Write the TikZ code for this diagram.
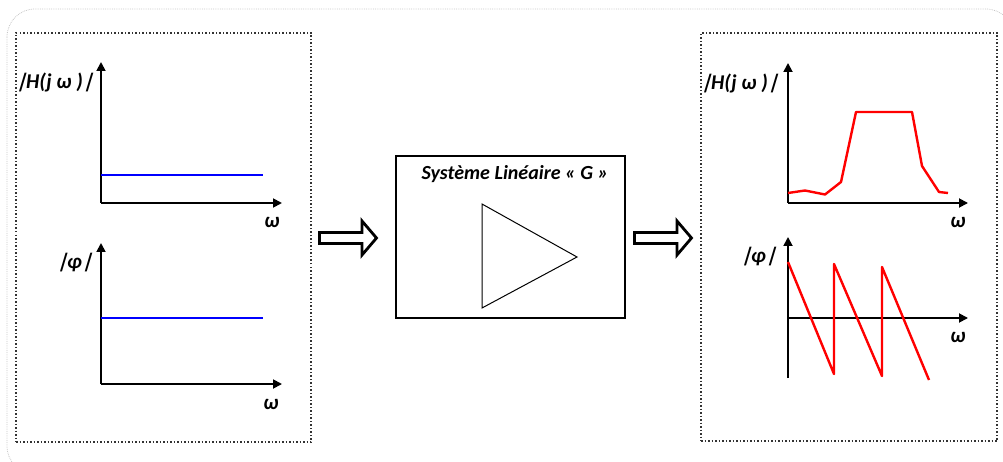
\documentclass[tikz,border=0pt]{standalone}
\usepackage{fontspec}
\setmainfont{Carlito}
\newfontfamily\slbarfont[FakeSlant=0.3]{Carlito}
\newcommand\sbar{{\slbarfont\bfseries\upshape|}}
\usetikzlibrary{arrows.meta}
\begin{document}
\begin{tikzpicture}[x=1pt,y=-1pt,
  lbl/.style={font=\fontsize{21}{24}\selectfont\bfseries\itshape, inner sep=0pt},
  ttl/.style={font=\fontsize{20}{24}\selectfont\bfseries\itshape, inner sep=0pt},
  axis/.style={line width=1.8pt, -{Triangle[length=9pt,width=9pt]}},
  frame/.style={draw=black!80, line width=1.5pt, dotted},
  outerframe/.style={draw=black!22, line width=0.8pt, densely dotted, rounded corners=28pt},
  blue curve/.style={draw=blue, line width=2.4pt},
  red curve/.style={draw=red, line width=2.4pt, line join=round},
  blockarrow/.style={draw=black, line width=2.8pt, fill=white, line join=miter},
  sysbox/.style={draw=black, line width=1.5pt}]
\useasboundingbox (0,0) rectangle (1003,462);
\begin{scope}
\clip (0,0) rectangle (1003,462);
\draw[outerframe] (7,9) rectangle (1014,474);
\end{scope}
% left dotted box
\node[frame, minimum width=295pt, minimum height=409pt, inner sep=0pt] (inbox) at (163.5,237.5) {};
% right dotted box
\node[frame, minimum width=296pt, minimum height=408pt, inner sep=0pt] (outbox) at (849,237) {};
% centre system box
\node[sysbox, minimum width=229pt, minimum height=162pt, inner sep=0pt] (sys) at (510.5,237) {};
\node[ttl] (systitle) at (515,174) {Système Linéaire « G »};
\coordinate (t1) at (482,204);
\coordinate (t2) at (482,308);
\coordinate (t3) at (577,257);
\draw[line width=1pt, line join=miter] (t1) -- (t3) -- (t2) -- cycle;

% block arrows
\coordinate (a1) at (319.5,238);
\coordinate (a2) at (634.5,238);
\foreach \a in {a1,a2}{
  \draw[blockarrow] ([shift={(0,-5.5)}]\a) -- ++(42.5,0) -- ++(0,-11.5) -- ++(14.5,17) -- ++(-14.5,17) -- ++(0,-11.5) -- ++(-42.5,0) -- cycle;
}

% ---------- left plots ----------
\coordinate (o1) at (101,203);
\coordinate (y1) at (101,62);
\coordinate (x1) at (282,203);
\draw[axis] (o1) -- (y1);
\draw[axis] (o1) -- (x1);
\coordinate (b1s) at (101,175);
\coordinate (b1e) at (263,175);
\draw[blue curve] (b1s) -- (b1e);
\node[lbl, anchor=east] (lH1) at (93,82) {\sbar H(j ω )\sbar};
\node[lbl] (lw1) at (272,222) {ω};

\coordinate (o2) at (101,384);
\coordinate (y2) at (101,243);
\coordinate (x2) at (282,384);
\draw[axis] (o2) -- (y2);
\draw[axis] (o2) -- (x2);
\coordinate (b2s) at (101,318);
\coordinate (b2e) at (263,318);
\draw[blue curve] (b2s) -- (b2e);
\node[lbl, anchor=east] (lp1) at (92,263) {\sbar φ\sbar};
\node[lbl] (lw2) at (271,404) {ω};

% ---------- right plots ----------
\coordinate (o3) at (788,203);
\coordinate (y3) at (788,63);
\coordinate (x3) at (968,203);
\draw[axis] (o3) -- (y3);
\draw[axis] (o3) -- (x3);
\draw[red curve] (788,193) -- (805,190.5) -- (825,194.5) -- (841,182) -- (856,112) -- (912,112) -- (922,166) -- (939,192) -- (948,193);
\node[lbl, anchor=east] (lH2) at (778,83) {\sbar H(j ω )\sbar};
\node[lbl] (lw3) at (958,222) {ω};

\coordinate (o4) at (788,318);
\coordinate (y4) at (788,237);
\coordinate (y4b) at (788,378);
\coordinate (x4) at (968,318);
\draw[axis] (y4b) -- (y4);
\draw[axis] (o4) -- (x4);
\draw[red curve] (788,262) -- (834,374) -- (834,264) -- (882,376) -- (882,267) -- (929,380);
\node[lbl, anchor=east] (lp2) at (776,257) {\sbar φ\sbar};
\node[lbl] (lw4) at (958,337) {ω};
\end{tikzpicture}
\end{document}
